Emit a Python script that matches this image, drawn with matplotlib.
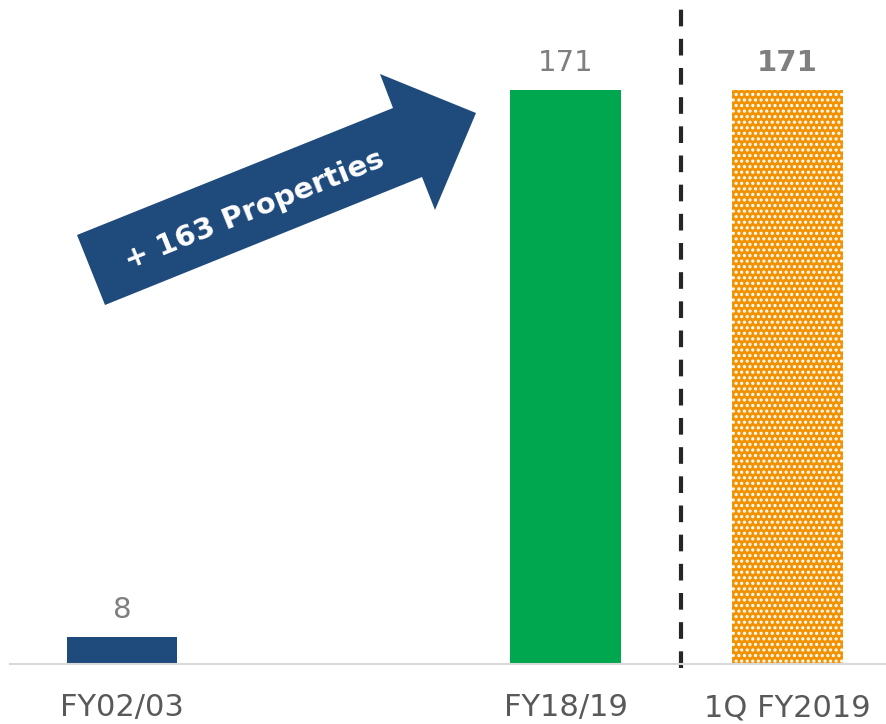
import matplotlib
matplotlib.use("Agg")
import matplotlib.pyplot as plt
from matplotlib.patches import Polygon

# data
categories = ["FY02/03", "", "FY18/19", "1Q FY2019"]
values = [8, None, 171, 171]
bar_colors = ["#1F4A7C", None, "#00A74F", "#F39200"]
arrow_text = "+ 163 Properties"

W, H = 887, 724
plt.rcParams["font.family"] = ["DejaVu Sans"]
plt.rcParams["hatch.linewidth"] = 1.5
plt.rcParams["hatch.color"] = "white"

fig = plt.figure(figsize=(W / 100, H / 100), dpi=100)
ax = fig.add_axes([10 / W, (H - 664) / H, 877 / W, 664 / H])

for i, (v, c) in enumerate(zip(values, bar_colors)):
    if v is None:
        continue
    hatch = "..." if i == 3 else None
    ax.bar(i, v, width=0.5, color=c, hatch=hatch, edgecolor="white" if hatch else c, linewidth=0)
    ax.annotate(str(v), (i, v), xytext=(0, 13.7), textcoords="offset points",
                ha="center", va="baseline", fontsize=21, color="#7F7F7F",
                fontweight="bold" if i == 3 else "normal")

ax.set_xlim(-0.505, 3.45)
ax.set_ylim(0, 197.8)

# separator between annual and quarterly
ax.plot([2.52, 2.52], [-1.2, 195.4], color="#262626", lw=3, dashes=(4, 3), clip_on=False)

ticks = [i for i, c in enumerate(categories) if c]
ax.set_xticks(ticks)
ax.set_xticklabels([categories[i] for i in ticks], fontsize=22, color="#595959")
ax.tick_params(axis="x", length=0, pad=21)
ax.set_yticks([])
for s in ["top", "left", "right"]:
    ax.spines[s].set_visible(False)
ax.spines["bottom"].set_color("#D9D9D9")
ax.spines["bottom"].set_linewidth(1.5)

# big growth arrow (pixel coords -> figure fraction)
arrow_px = [(77, 235), (393, 108), (380, 74), (476, 113), (435, 210), (422, 177), (105, 305)]
arrow = Polygon([(x / W, 1 - y / H) for x, y in arrow_px], closed=True,
                facecolor="#1F4A7C", edgecolor="none", transform=fig.transFigure)
fig.patches.append(arrow)
fig.text(254 / W, 1 - 210 / H, arrow_text, rotation=22, rotation_mode="anchor",
         ha="center", va="center", fontsize=21, fontweight="bold", color="white")

fig.savefig("out.png", dpi=100)
